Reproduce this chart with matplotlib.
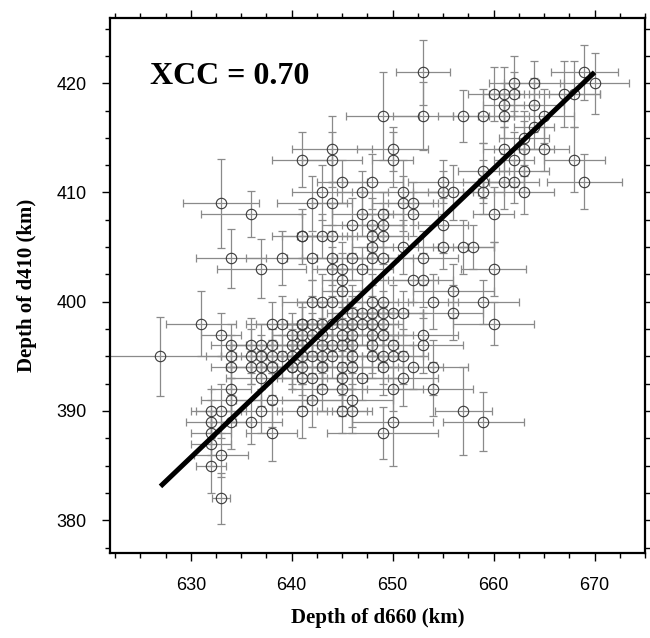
import matplotlib
matplotlib.use("Agg")
import matplotlib.pyplot as plt

# ---------- data ----------
# depth of d660 (km), depth of d410 (km), and their errors
d660 = [633, 641, 636, 634, 637, 639, 641, 631, 627, 633, 638, 639, 641,
        634, 636, 637, 638, 640, 634, 636, 637, 638, 639, 640,
        634, 636, 637, 638, 640, 640, 637, 634,
        632, 633, 634, 638, 632, 634, 636, 637, 641, 632, 638, 632, 633, 632, 633,
        642, 645, 646, 646, 649, 650, 657, 659,
        653, 649, 653, 657, 659, 660, 644, 644, 650, 650, 645, 648, 655, 659, 659,
        643, 647, 651, 655, 656, 659, 642, 644, 651, 652,
        669, 670, 662, 664, 661, 662, 667, 668, 661, 664, 661, 665, 664, 663,
        661, 663, 665, 662, 668, 663, 661, 662, 669, 663,
        660, 660, 660,
        647, 649, 652, 646, 648, 649, 655,
        641, 643, 644, 648, 649, 648, 651, 655, 657, 658,
        642, 644, 646, 648, 649, 653, 644, 645, 647, 645, 652, 653, 645, 656,
        642, 643, 644, 648, 649, 654, 659,
        646, 647, 648, 649, 650, 651, 656,
        641, 642, 643, 644, 645, 646, 647, 648, 649,
        641, 642, 643, 645, 646, 648, 649, 653,
        641, 643, 644, 645, 646, 648, 650, 653,
        641, 642, 643, 644, 646, 648, 649, 650, 651,
        640, 641, 643, 645, 646, 649, 652, 654,
        641, 642, 645, 647, 651,
        643, 645, 650, 654]
d410 = [409, 413, 408, 404, 403, 404, 406, 398, 395, 397, 398, 398, 398,
        396, 396, 396, 396, 396, 395, 395, 395, 395, 395, 395,
        394, 394, 394, 394, 394, 397, 393, 392,
        390, 390, 391, 391, 389, 389, 389, 390, 390, 388, 388, 387, 386, 385, 382,
        391, 390, 391, 390, 388, 389, 390, 389,
        421, 417, 417, 417, 417, 419, 414, 413, 414, 413, 411, 411, 411, 412, 411,
        410, 410, 410, 410, 410, 410, 409, 409, 409, 409,
        421, 420, 420, 420, 419, 419, 419, 419, 418, 418, 417, 417, 416, 415,
        414, 414, 414, 413, 413, 412, 411, 411, 411, 410,
        408, 403, 398,
        408, 408, 408, 407, 407, 407, 407,
        406, 406, 406, 406, 406, 405, 405, 405, 405, 405,
        404, 404, 404, 404, 404, 404, 403, 403, 403, 402, 402, 402, 401, 401,
        400, 400, 400, 400, 400, 400, 400,
        399, 399, 399, 399, 399, 399, 399,
        398, 398, 398, 398, 398, 398, 398, 398, 398,
        397, 397, 397, 397, 397, 397, 397, 397,
        396, 396, 396, 396, 396, 396, 396, 396,
        395, 395, 395, 395, 395, 395, 395, 395, 395,
        394, 394, 394, 394, 394, 394, 394, 394,
        393, 393, 393, 393, 393,
        392, 392, 392, 392]
err660 = [3.8, 3.0, 5.0, 3.5, 4.4, 3.5, 2.0, 3.5, 6.0, 2.0, 2.5, 2.5, 2.0,
          2.0, 2.0, 3.0, 2.5, 2.0, 2.5, 3.0, 2.0, 3.5, 2.0, 2.5,
          2.0, 2.5, 3.0, 2.0, 2.5, 2.0, 3.5, 2.0,
          2.0, 2.5, 3.0, 3.5, 2.5, 2.0, 3.0, 2.0, 2.5, 2.0, 2.5, 2.0, 2.7, 1.5, 0.9,
          3.0, 2.5, 4.0, 2.0, 5.5, 4.0, 2.8, 4.0,
          2.7, 3.6, 3.0, 2.5, 3.0, 2.5, 4.0, 3.0, 3.5, 2.0, 2.5, 3.0, 3.5, 2.5, 2.0,
          3.0, 2.5, 4.0, 3.0, 2.5, 2.0, 3.5, 2.0, 3.0, 2.5,
          3.3, 3.4, 2.5, 3.0, 2.0, 2.5, 3.5, 2.5, 2.0, 3.0, 2.5, 3.0, 2.0, 2.5,
          2.0, 3.0, 2.5, 2.0, 3.0, 2.5, 2.0, 2.5, 3.7, 3.0,
          2.0, 3.2, 4.0,
          3.0, 2.0, 2.5, 3.0, 3.0, 2.0, 2.5,
          3.0, 2.5, 2.0, 3.0, 2.5, 2.0, 3.5, 2.5, 3.0, 2.0,
          2.5, 3.0, 2.0, 2.5, 3.0, 3.5, 2.0, 2.5, 3.0, 2.0, 2.5, 3.0, 2.0, 4.0,
          3.0, 2.5, 2.0, 2.5, 3.0, 2.5, 3.5,
          2.5, 3.0, 2.0, 2.5, 3.0, 2.0, 3.0,
          2.0, 2.5, 3.0, 2.0, 2.5, 3.0, 2.0, 2.5, 2.0,
          3.0, 2.0, 2.5, 3.0, 2.0, 2.5, 3.0, 3.5,
          2.5, 3.0, 2.0, 2.5, 3.0, 2.5, 2.0, 4.0,
          2.0, 3.0, 2.5, 2.0, 3.0, 2.5, 2.0, 3.0, 2.5,
          3.0, 2.5, 2.0, 3.0, 2.5, 2.0, 3.0, 3.5,
          2.5, 3.0, 2.0, 2.5, 3.5,
          3.0, 2.5, 3.0, 4.0]
err410 = [4.1, 2.5, 2.1, 2.7, 2.7, 2.5, 2.0, 3.0, 3.6, 2.0, 2.0, 2.5, 2.0,
          2.0, 2.5, 2.0, 1.5, 2.0, 2.0, 2.5, 2.0, 1.5, 2.0, 2.5,
          2.0, 1.5, 2.0, 2.5, 2.0, 2.0, 2.5, 2.0,
          2.0, 2.5, 2.0, 2.5, 2.0, 2.5, 2.0, 2.0, 2.5, 2.0, 2.6, 2.0, 2.0, 2.5, 2.3,
          2.5, 2.0, 2.5, 2.0, 2.4, 4.0, 4.0, 2.7,
          3.0, 4.0, 3.1, 2.4, 2.5, 2.5, 3.0, 2.5, 2.0, 2.5, 2.0, 2.5, 2.0, 2.5, 2.0,
          2.5, 2.0, 3.0, 2.0, 2.5, 2.0, 2.5, 2.0, 2.5, 2.0,
          2.5, 2.8, 2.5, 2.0, 2.5, 2.0, 3.0, 3.0, 2.0, 2.5, 2.0, 2.5, 2.0, 2.5,
          2.0, 2.5, 2.0, 2.5, 3.0, 2.0, 2.5, 2.0, 2.5, 2.0,
          2.5, 2.5, 2.0,
          2.0, 2.0, 2.0, 2.5, 2.5, 2.0, 2.5,
          2.5, 2.0, 3.0, 2.0, 2.5, 2.0, 2.5, 2.0, 2.5, 2.0,
          2.0, 2.5, 2.0, 2.5, 2.0, 2.5, 2.0, 2.5, 2.0, 2.5, 2.0, 2.5, 2.0, 2.5,
          2.0, 2.5, 2.0, 2.5, 2.0, 2.5, 2.0,
          2.5, 2.0, 2.5, 2.0, 2.5, 2.0, 2.5,
          2.0, 2.5, 2.0, 2.5, 2.0, 2.5, 2.0, 2.5, 2.0,
          2.5, 2.0, 2.5, 2.0, 2.5, 2.0, 2.5, 2.0,
          2.0, 2.5, 2.0, 2.5, 2.0, 2.5, 2.0, 2.5,
          2.5, 2.0, 2.5, 2.0, 2.5, 2.0, 2.5, 2.0, 2.5,
          2.0, 2.5, 2.0, 2.5, 2.0, 2.5, 2.0, 2.5,
          2.5, 2.0, 2.5, 2.0, 2.5,
          2.0, 2.5, 2.0, 2.5]

# fitted line end points
fit_x = [627, 670]
fit_y = [383.1, 421.0]
xcc_text = "XCC = 0.70"

# ---------- figure ----------
fig = plt.figure(figsize=(6.5, 6.38), dpi=100)
ax = fig.add_axes([110/650, 1-553/638, 535/650, (553-17.7)/638])

ax.errorbar(d660, d410, xerr=err660, yerr=err410, fmt='none',
            ecolor='#8a8a8a', elinewidth=0.9, capsize=3, capthick=0.9, zorder=1)
ax.plot(d660, d410, 'o', ms=7.5, mfc='none', mec='#3a3a3a', mew=0.8, zorder=2)
ax.plot(fit_x, fit_y, '-', color='black', lw=3.6, solid_capstyle='butt', zorder=3)

ax.text(626.0, 419.9, xcc_text, fontsize=23, fontweight='bold',
        family='Liberation Serif', ha='left', va='baseline')

ax.set_xlim(622, 675)
ax.set_ylim(377, 426)
ax.set_xticks([630, 640, 650, 660, 670])
ax.set_yticks([380, 390, 400, 410, 420])
ax.set_xticks([x/2 for x in range(1245, 1351, 5)], minor=True)
ax.set_yticks([y/2 for y in range(755, 853, 5)], minor=True)

for s in ax.spines.values():
    s.set_linewidth(1.6)
ax.tick_params(which='both', direction='out', top=True, right=True, width=1.0)
ax.tick_params(which='major', length=6, labelsize=13, pad=11)
ax.tick_params(which='minor', length=3.5)
for lab in ax.get_xticklabels() + ax.get_yticklabels():
    lab.set_family('Liberation Sans')

ax.set_xlabel('Depth of d660 (km)', fontsize=15, fontweight='bold',
              family='Liberation Serif', labelpad=10)
ax.set_ylabel('Depth of d410 (km)', fontsize=15, fontweight='bold',
              family='Liberation Serif', labelpad=14)

fig.savefig('out.png', dpi=100)
